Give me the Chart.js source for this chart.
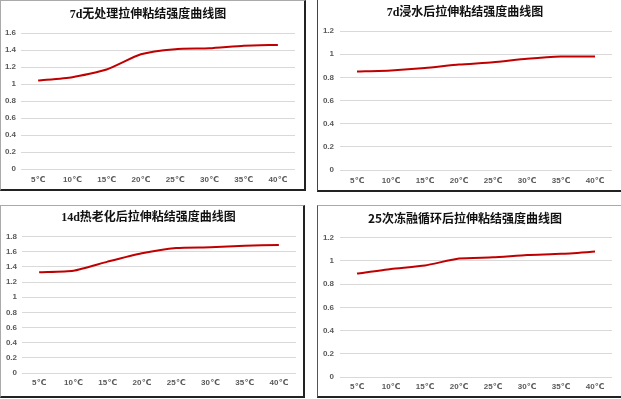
<!DOCTYPE html>
<html>
<head>
<meta charset="utf-8">
<script src="https://cdn.jsdelivr.net/npm/chart.js@4"></script>
<style>
  body { margin: 0; background: #fff; width: 621px; height: 399px; overflow: hidden; position: relative; }
  .panel { position: absolute; background: #fff; box-sizing: content-box; }
  .panel canvas { display: block; }
</style>
</head>
<body>
<div class="panel" id="p1" style="left:0;top:0;width:303px;height:188px;border-left:1px solid #aaa;border-top:1px solid #aaa;border-right:2px solid #222;border-bottom:2px solid #222;"><canvas id="c1"></canvas></div>
<div class="panel" id="p2" style="left:317px;top:0;width:304px;height:190px;border-left:1px solid #444;border-bottom:2px solid #222;"><canvas id="c2"></canvas></div>
<div class="panel" id="p3" style="left:0;top:205px;width:302px;height:190px;border-left:1px solid #aaa;border-top:1px solid #aaa;border-right:2px solid #222;border-bottom:2px solid #222;"><canvas id="c3"></canvas></div>
<div class="panel" id="p4" style="left:317px;top:205px;width:304px;height:190px;border-left:1px solid #555;border-top:1px solid #aaa;border-bottom:2px solid #222;"><canvas id="c4"></canvas></div>
<script>
// temperatures on the x axis
const temps = ['5℃', '10℃', '15℃', '20℃', '25℃', '30℃', '35℃', '40℃'];

// tensile bond strength per test condition
const untreated7d = [1.04, 1.08, 1.17, 1.35, 1.41, 1.42, 1.45, 1.46];
const soaked7d = [0.85, 0.86, 0.88, 0.91, 0.93, 0.96, 0.98, 0.98];
const heatAged14d = [1.33, 1.35, 1.47, 1.58, 1.65, 1.66, 1.68, 1.69];
const freezeThaw25 = [0.89, 0.93, 0.96, 1.02, 1.03, 1.05, 1.06, 1.08];

const titles = [
    '7d无处理拉伸粘结强度曲线图',
    '7d浸水后拉伸粘结强度曲线图',
    '14d热老化后拉伸粘结强度曲线图',
    '25次冻融循环后拉伸粘结强度曲线图'
];
const yMaxes = [1.6, 1.2, 1.8, 1.2];

const serifTitle = "'Liberation Serif', 'Noto Sans CJK SC', serif";
const sansTitle = "'Noto Sans CJK SC', sans-serif";

function makeChart(id, title, values, yMax, g) {
    const canvas = document.getElementById(id);
    canvas.width = g.w;
    canvas.height = g.h;
    canvas.style.width = g.w + 'px';
    canvas.style.height = g.h + 'px';

    return new Chart(canvas.getContext('2d'), {
        type: 'line',
        data: {
            labels: temps,
            datasets: [{
                data: values,
                borderColor: '#c00000',
                borderWidth: 2,
                pointRadius: 0,
                tension: 0.2,
                fill: false
            }]
        },
        options: {
            responsive: false,
            animation: false,
            layout: {
                padding: { left: 0, right: g.padRight, top: 0, bottom: g.padBottom }
            },
            plugins: {
                legend: { display: false },
                tooltip: { enabled: false },
                title: {
                    display: true,
                    text: title,
                    color: '#111',
                    font: { family: g.titleFont, size: 12, weight: 'bold', lineHeight: 1.2 },
                    padding: { top: g.titleTop, bottom: g.titleBottom }
                }
            },
            scales: {
                x: {
                    offset: true,
                    afterFit: function(scale) { scale.height = 16; },
                    grid: { display: false, drawTicks: false },
                    border: { display: false },
                    ticks: {
                        color: '#595959',
                        padding: g.xPad,
                        maxRotation: 0,
                        font: { family: "'Liberation Sans', 'DejaVu Sans', sans-serif", size: 8, weight: 'bold', lineHeight: 1.2 }
                    }
                },
                y: {
                    min: 0,
                    max: yMax,
                    afterFit: function(scale) { scale.width = g.yWidth; },
                    grid: { color: '#d9d9d9', lineWidth: 1, drawTicks: false },
                    border: { display: false },
                    ticks: {
                        stepSize: 0.2,
                        color: '#595959',
                        padding: g.yPad,
                        font: { family: "'Liberation Sans', sans-serif", size: 8, weight: 'bold' },
                        callback: function(value) {
                            return String(Number(value.toFixed(1)));
                        }
                    }
                }
            }
        }
    });
}

makeChart('c1', titles[0], untreated7d, yMaxes[0],
    { w: 303, h: 188, padRight: 9, padBottom: 4, yWidth: 20, yPad: 5, xPad: 6, titleTop: 7, titleBottom: 10.6, titleFont: serifTitle });
makeChart('c2', titles[1], soaked7d, yMaxes[1],
    { w: 304, h: 190, padRight: 10, padBottom: 4, yWidth: 22, yPad: 6, xPad: 6, titleTop: 6, titleBottom: 10.6, titleFont: serifTitle });
makeChart('c3', titles[2], heatAged14d, yMaxes[2],
    { w: 302, h: 190, padRight: 7, padBottom: 7, yWidth: 21, yPad: 5, xPad: 5, titleTop: 5, titleBottom: 11.2, titleFont: serifTitle });
makeChart('c4', titles[3], freezeThaw25, yMaxes[3],
    { w: 304, h: 190, padRight: 10, padBottom: 3, yWidth: 22, yPad: 6, xPad: 5, titleTop: 5, titleBottom: 12.2, titleFont: sansTitle });
</script>
</body>
</html>
